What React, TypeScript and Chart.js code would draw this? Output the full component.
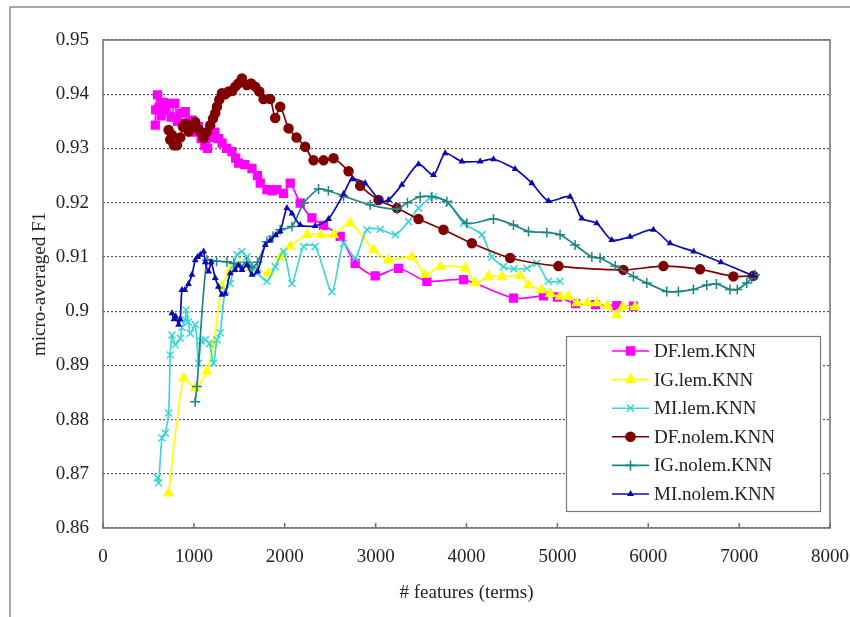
import React, { useEffect, useRef } from 'react';
import { Chart, registerables } from 'chart.js';
import { drawPoint } from 'chart.js/helpers';

Chart.register(...registerables);

// Axis ticks
const xTicks = [0, 1000, 2000, 3000, 4000, 5000, 6000, 7000, 8000];
const yTicks = [0.86, 0.87, 0.88, 0.89, 0.9, 0.91, 0.92, 0.93, 0.94, 0.95];

const xTitle = '# features (terms)';
const yTitle = 'micro-averaged F1';

// DF.lem.KNN
const dfLemX = [575, 580, 600, 615, 640, 660, 690, 720, 750, 790, 820, 860, 905, 940, 980, 1015, 1050, 1080, 1120, 1150, 1190, 1230, 1272, 1310, 1360, 1419, 1460, 1492, 1560, 1639, 1700, 1730, 1804, 1860, 1914, 1987, 2060, 2170, 2299, 2427, 2610, 2775, 2995, 3252, 3564, 3967, 4517, 4847, 5000, 5200, 5420, 5654, 5837];
const dfLemY = [0.9343, 0.9371, 0.9399, 0.9375, 0.936, 0.9385, 0.937, 0.9383, 0.9358, 0.9383, 0.935, 0.9365, 0.9368, 0.934, 0.9352, 0.933, 0.934, 0.9318, 0.9305, 0.93, 0.932, 0.933, 0.9318, 0.931, 0.93, 0.9294, 0.9282, 0.9273, 0.927, 0.9263, 0.925, 0.9236, 0.9224, 0.9222, 0.9224, 0.9217, 0.9236, 0.9199, 0.9172, 0.9158, 0.9138, 0.9088, 0.9065, 0.9079, 0.9055, 0.9058, 0.9024, 0.9028, 0.9026, 0.9014, 0.9012, 0.901, 0.9009];

// IG.lem.KNN
const igLemX = [722, 887, 1015, 1144, 1217, 1309, 1400, 1500, 1620, 1822, 1950, 2060, 2244, 2400, 2537, 2720, 2977, 3142, 3399, 3545, 3710, 3985, 4095, 4242, 4389, 4590, 4682, 4829, 4920, 5030, 5120, 5214, 5330, 5434, 5550, 5654, 5720, 5856];
const igLemY = [0.8664, 0.8876, 0.8858, 0.8889, 0.8941, 0.9045, 0.9075, 0.9085, 0.908, 0.907, 0.91, 0.9119, 0.9141, 0.9141, 0.9141, 0.9162, 0.9113, 0.9094, 0.91, 0.9067, 0.9082, 0.9079, 0.9052, 0.9064, 0.9064, 0.9065, 0.9048, 0.9039, 0.9032, 0.9027, 0.9027, 0.9015, 0.9015, 0.9015, 0.901, 0.8993, 0.9008, 0.9008];

// MI.lem.KNN
const miLemX = [600, 612, 649, 685, 722, 740, 759, 795, 850, 870, 905, 915, 940, 960, 1015, 1052, 1080, 1125, 1170, 1217, 1254, 1290, 1345, 1400, 1440, 1474, 1529, 1584, 1640, 1700, 1804, 1895, 1987, 2079, 2207, 2335, 2519, 2647, 2775, 2904, 3051, 3216, 3362, 3472, 3637, 3802, 3967, 4169, 4279, 4407, 4520, 4664, 4774, 4902, 5030];
const miLemY = [0.8693, 0.8683, 0.8766, 0.8775, 0.8812, 0.8919, 0.8956, 0.8938, 0.895, 0.897, 0.8984, 0.9002, 0.898, 0.8959, 0.8975, 0.8904, 0.8945, 0.8947, 0.894, 0.8904, 0.8947, 0.896, 0.9039, 0.9051, 0.9085, 0.9104, 0.911, 0.91, 0.908, 0.907, 0.9055, 0.9082, 0.911, 0.9051, 0.9119, 0.9119, 0.9036, 0.9125, 0.9098, 0.915, 0.9151, 0.9141, 0.9165, 0.919, 0.9211, 0.9199, 0.9162, 0.9141, 0.91, 0.9082, 0.9078, 0.9079, 0.9088, 0.9055, 0.9055];

// DF.nolem.KNN
const dfNolemX = [722, 740, 760, 780, 814, 850, 880, 905, 942, 980, 1015, 1050, 1070, 1107, 1140, 1180, 1210, 1235, 1254, 1280, 1309, 1345, 1382, 1420, 1455, 1490, 1529, 1584, 1630, 1675, 1720, 1767, 1840, 1895, 1950, 2042, 2130, 2225, 2317, 2427, 2537, 2702, 2830, 3032, 3234, 3472, 3747, 4059, 4480, 5012, 5727, 6167, 6570, 6937, 7157];
const dfNolemY = [0.9334, 0.9316, 0.9325, 0.9306, 0.9306, 0.932, 0.934, 0.9346, 0.9331, 0.934, 0.9349, 0.9336, 0.9331, 0.9319, 0.933, 0.9343, 0.9355, 0.9365, 0.9377, 0.939, 0.9402, 0.94, 0.9405, 0.9406, 0.9414, 0.942, 0.9429, 0.9417, 0.942, 0.9414, 0.9405, 0.9391, 0.9391, 0.9356, 0.9377, 0.9337, 0.932, 0.9303, 0.9278, 0.9278, 0.9282, 0.9258, 0.9231, 0.9205, 0.919, 0.917, 0.915, 0.9125, 0.9098, 0.9083, 0.9076, 0.9083, 0.9077, 0.9064, 0.9065];

// IG.nolem.KNN
const igNolemX = [1015, 1034, 1144, 1250, 1364, 1440, 1510, 1580, 1640, 1700, 1804, 1870, 1950, 2079, 2207, 2372, 2480, 2647, 2940, 3234, 3350, 3490, 3619, 3784, 4004, 4297, 4517, 4682, 4884, 5030, 5195, 5379, 5470, 5637, 5837, 5984, 6204, 6332, 6497, 6644, 6750, 6900, 6980, 7084, 7139, 7175];
const igNolemY = [0.8833, 0.8861, 0.9094, 0.9092, 0.9091, 0.9088, 0.9082, 0.909, 0.908, 0.909, 0.9128, 0.9138, 0.915, 0.9156, 0.9199, 0.9225, 0.9222, 0.9212, 0.9196, 0.9188, 0.92, 0.9211, 0.9211, 0.9202, 0.9162, 0.917, 0.9159, 0.9147, 0.9145, 0.9141, 0.9122, 0.91, 0.9098, 0.9083, 0.9064, 0.9052, 0.9036, 0.9036, 0.904, 0.9048, 0.905, 0.904, 0.904, 0.9052, 0.9061, 0.9067];

// MI.nolem.KNN
const miNolemX = [759, 780, 800, 832, 850, 869, 900, 940, 979, 1015, 1040, 1070, 1107, 1125, 1162, 1190, 1235, 1270, 1309, 1345, 1400, 1455, 1490, 1530, 1584, 1639, 1700, 1785, 1840, 1900, 1950, 2024, 2080, 2170, 2335, 2482, 2647, 2739, 2885, 3051, 3142, 3289, 3472, 3637, 3766, 3949, 4150, 4297, 4535, 4719, 4902, 5140, 5269, 5434, 5599, 5800, 6057, 6240, 6500, 6800, 7157];
const miNolemY = [0.8996, 0.8985, 0.899, 0.8975, 0.8985, 0.9039, 0.9039, 0.905, 0.9067, 0.9094, 0.91, 0.9104, 0.911, 0.909, 0.9073, 0.909, 0.9061, 0.9045, 0.903, 0.9032, 0.907, 0.9076, 0.9085, 0.9076, 0.9085, 0.9067, 0.9073, 0.9122, 0.913, 0.914, 0.9147, 0.919, 0.918, 0.9159, 0.9157, 0.917, 0.9216, 0.9243, 0.9236, 0.9203, 0.9205, 0.9233, 0.9271, 0.9251, 0.9291, 0.9276, 0.9276, 0.928, 0.9262, 0.9236, 0.9203, 0.9211, 0.9171, 0.9162, 0.9131, 0.9137, 0.915, 0.9125, 0.911, 0.909, 0.9065];

const seriesNames = ['DF.lem.KNN', 'IG.lem.KNN', 'MI.lem.KNN', 'DF.nolem.KNN', 'IG.nolem.KNN', 'MI.nolem.KNN'];
const seriesX = [dfLemX, igLemX, miLemX, dfNolemX, igNolemX, miNolemX];
const seriesY = [dfLemY, igLemY, miLemY, dfNolemY, igNolemY, miNolemY];

const seriesColors = ['#FF00FF', '#FFFF00', '#3DD6D6', '#800000', '#1E8585', '#0A0AB4'];
const seriesMarkers = ['rect', 'triangle', 'crossRot', 'circle', 'cross', 'triangle'];
const markerRadius = [5.5, 5, 5, 4.5, 5, 2.5];

const SERIF = '"Liberation Serif", "Times New Roman", serif';
const TEXT = '#222222';

const pageFrame = {
  id: 'pageFrame',
  beforeDraw(chart: any) {
    const { ctx, width, height } = chart;
    ctx.save();
    ctx.fillStyle = '#ffffff';
    ctx.fillRect(0, 0, width, height);
    ctx.strokeStyle = '#8a8a8a';
    ctx.lineWidth = 1.5;
    ctx.beginPath();
    ctx.moveTo(10, height);
    ctx.lineTo(10, 7);
    ctx.lineTo(width, 7);
    ctx.stroke();
    ctx.restore();
  },
  afterDatasetsDraw(chart: any) {
    const { ctx, chartArea } = chart;
    const { left, top, right, bottom } = chartArea;
    const xs = chart.scales.x;
    ctx.save();
    ctx.strokeStyle = '#6e6e6e';
    ctx.lineWidth = 1.5;
    ctx.strokeRect(left, top, right - left, bottom - top);
    ctx.beginPath();
    xTicks.forEach((v) => {
      const px = xs.getPixelForValue(v);
      ctx.moveTo(px, bottom);
      ctx.lineTo(px, bottom - 5);
    });
    ctx.stroke();
    ctx.restore();
  },
  afterDraw(chart: any) {
    const { ctx } = chart;
    const bx = 566.5, by = 336.5, bw = 254, bh = 175;
    ctx.save();
    ctx.fillStyle = '#ffffff';
    ctx.fillRect(bx, by, bw, bh);
    ctx.strokeStyle = '#7a7a7a';
    ctx.lineWidth = 1.2;
    ctx.strokeRect(bx, by, bw, bh);
    ctx.font = `19px ${SERIF}`;
    ctx.textBaseline = 'middle';
    ctx.textAlign = 'left';
    seriesNames.forEach((name, i) => {
      const cy = 351 + i * 28.6;
      ctx.strokeStyle = seriesColors[i];
      ctx.lineWidth = 1.6;
      ctx.beginPath();
      ctx.moveTo(612, cy);
      ctx.lineTo(649, cy);
      ctx.stroke();
      ctx.fillStyle = seriesColors[i];
      drawPoint(ctx, { pointStyle: seriesMarkers[i], radius: markerRadius[i], borderWidth: 1.5, rotation: 0 } as any, 630.5, cy);
      ctx.fillStyle = TEXT;
      ctx.fillText(name, 654, cy + 1);
    });
    ctx.restore();
  },
};

export default function App() {
  const ref = useRef<HTMLCanvasElement | null>(null);

  useEffect(() => {
    document.body.style.margin = '0';
    const canvas = ref.current;
    if (!canvas) return;
    const datasets = seriesNames.map((name, i) => ({
      label: name,
      data: seriesX[i].map((x, j) => ({ x, y: seriesY[i][j] })),
      borderColor: seriesColors[i],
      backgroundColor: seriesColors[i],
      pointBackgroundColor: seriesColors[i],
      pointBorderColor: seriesColors[i],
      pointStyle: seriesMarkers[i],
      pointRadius: markerRadius[i],
      pointBorderWidth: 1.5,
      borderWidth: 1.7,
      tension: 0.25,
      fill: false,
      order: seriesNames.length - i,
    }));

    const chart = new Chart(canvas, {
      type: 'line',
      data: { datasets },
      plugins: [pageFrame],
      options: {
        animation: false,
        responsive: false,
        devicePixelRatio: 1,
        layout: { padding: { left: 0, top: 40, right: 20, bottom: 0 } },
        plugins: { legend: { display: false }, tooltip: { enabled: false } },
        scales: {
          x: {
            type: 'linear',
            min: 0,
            max: 8000,
            afterBuildTicks: (s: any) => { s.ticks = xTicks.map((v) => ({ value: v })); },
            afterFit: (s: any) => { s.height = 89; },
            // Invisible tick marks only push the labels down from the axis
            grid: { display: true, drawOnChartArea: false, drawTicks: true, tickLength: 18, color: 'rgba(0,0,0,0)', tickColor: 'rgba(0,0,0,0)' },
            border: { display: false },
            ticks: {
              font: { family: SERIF, size: 19 },
              color: TEXT,
              padding: 0,
              maxRotation: 0,
              autoSkip: false,
              callback: (v: any) => String(v),
            },
            title: { display: true, text: xTitle, font: { family: SERIF, size: 19 }, color: TEXT, padding: { top: 0, bottom: 12.6 } },
          },
          y: {
            type: 'linear',
            min: 0.86,
            max: 0.95,
            afterBuildTicks: (s: any) => { s.ticks = yTicks.map((v) => ({ value: v })); },
            afterFit: (s: any) => { s.width = 103; },
            grid: { color: '#555555', lineWidth: 1.2, drawTicks: false },
            border: { display: false, dash: [2, 2] },
            ticks: {
              font: { family: SERIF, size: 19 },
              color: TEXT,
              padding: 14,
              autoSkip: false,
              callback: (v: any) => String(Number(Number(v).toFixed(2))),
            },
            title: { display: true, text: yTitle, font: { family: SERIF, size: 19 }, color: TEXT, padding: { top: 28.6, bottom: 0 } },
          },
        },
      },
    });
    return () => chart.destroy();
  }, []);

  return (
    <div style={{ width: 850, height: 617, position: 'relative' }}>
      <canvas ref={ref} width={850} height={617} style={{ display: 'block' }} />
    </div>
  );
}
